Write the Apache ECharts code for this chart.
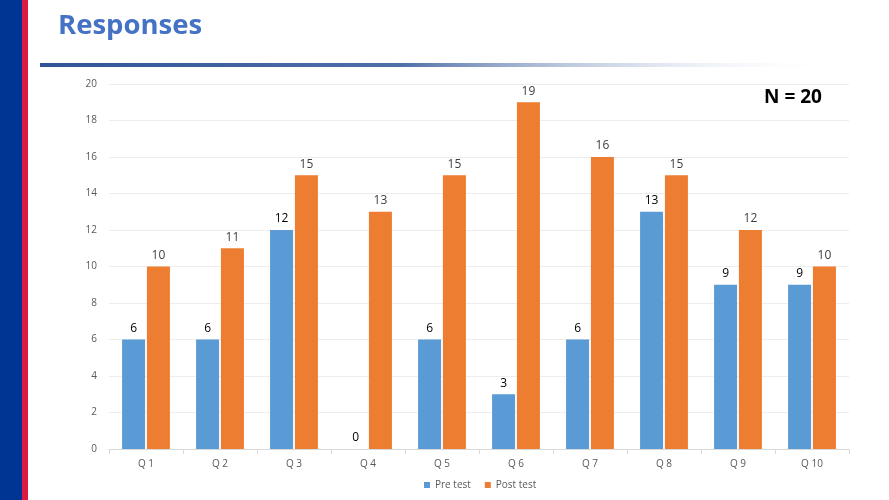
<!DOCTYPE html>
<html><head><meta charset="utf-8">
<script src="https://cdn.jsdelivr.net/npm/echarts@6/dist/echarts.min.js"></script>
<style>html,body{margin:0;padding:0;background:#fff;}#c{width:889px;height:500px;}</style>
</head><body><div id="c"></div>
<script>
var categories = ['Q 1','Q 2','Q 3','Q 4','Q 5','Q 6','Q 7','Q 8','Q 9','Q 10'];
var preTest = [6, 6, 12, 0, 6, 3, 6, 13, 9, 9];
var postTest = [10, 11, 15, 13, 15, 19, 16, 15, 12, 10];
var seriesNames = ['Pre test', 'Post test'];

var chart = echarts.init(document.getElementById('c'));
chart.setOption({
  animation: false,
  backgroundColor: '#fff',
  graphic: [
    {type:'rect', shape:{x:0,y:0,width:22,height:500}, style:{fill:'#003594'}},
    {type:'rect', shape:{x:22,y:0,width:6,height:500}, style:{fill:'#DC1843'}},
    {type:'rect', shape:{x:40,y:63,width:800,height:4}, style:{fill:new echarts.graphic.LinearGradient(0,0,1,0,[{offset:0,color:'#2F5597'},{offset:0.45,color:'#4F6FA8'},{offset:1,color:'rgba(255,255,255,0)'}])}},
    {type:'text', left:58, top:12, style:{text:'Responses', fill:'#4472C4', font:'bold 27.5px "Open Sans", sans-serif'}},
    {type:'text', left:764, top:88, style:{text:'N = 20', fill:'#000', font:'bold 19px "Open Sans", sans-serif'}}
  ],
  legend: {
    bottom: 5, left: 419, itemWidth: 6, itemHeight: 6, itemGap: 14,
    icon: 'rect',
    textStyle: {color:'#595959', fontSize: 10, fontFamily:'"Open Sans", sans-serif'},
    data: seriesNames
  },
  grid: {left: 109, right: 40, top: 84, bottom: 51},
  xAxis: {
    type: 'category', data: categories,
    axisLine: {lineStyle:{color:'#D9D9D9'}},
    axisTick: {show:true, lineStyle:{color:'#D9D9D9'}},
    axisLabel: {color:'#595959', fontSize:10, margin:10, fontFamily:'"Open Sans", sans-serif'}
  },
  yAxis: {
    type: 'value', min: 0, max: 20, interval: 2,
    axisLine: {show:false}, axisTick:{show:false},
    splitLine: {lineStyle:{color:'#EDEDED'}},
    axisLabel: {color:'#595959', fontSize:10, margin:12, fontFamily:'"Open Sans", sans-serif'}
  },
  series: [
    {name: seriesNames[0], type:'bar', data: preTest, barWidth: 23, barGap:'8%',
     itemStyle:{color:'#5B9BD5'},
     label:{show:true, position:'top', color:'#000', fontSize:12, distance:5, fontFamily:'"Open Sans", sans-serif'}},
    {name: seriesNames[1], type:'bar', data: postTest, barWidth: 23,
     itemStyle:{color:'#ED7D31'},
     label:{show:true, position:'top', color:'#404040', fontSize:12, distance:5, fontFamily:'"Open Sans", sans-serif'}}
  ]
});
</script></body></html>
